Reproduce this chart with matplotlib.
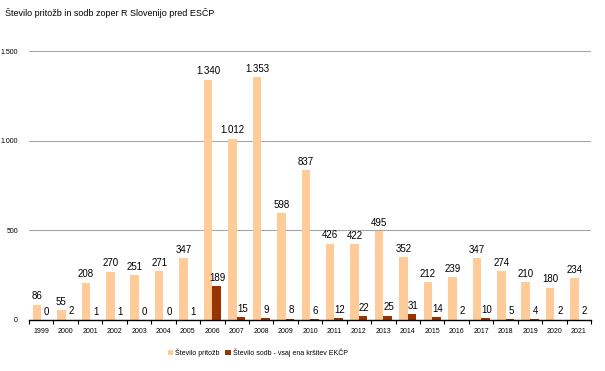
import matplotlib.pyplot as plt
import numpy as np

plt.rcParams['font.family'] = ['Liberation Sans', 'DejaVu Sans']

years = [str(y) for y in range(1999, 2022)]
pritozbe = [86, 55, 208, 270, 251, 271, 347, 1340, 1012, 1353, 598, 837,
            426, 422, 495, 352, 212, 239, 347, 274, 210, 180, 234]
sodbe = [0, 2, 1, 1, 0, 0, 1, 189, 15, 9, 8, 6,
         12, 22, 25, 31, 14, 2, 10, 5, 4, 2, 2]


def fmt(v):
    return f"{v:,}".replace(",", ".")


fig = plt.figure(figsize=(6.05, 3.71), dpi=100)
ax = fig.add_axes([0.048, 0.1375, 0.929, 0.725])

x = np.arange(len(years))
w = 0.35
b1 = ax.bar(x - w / 2, pritozbe, w, color='#FFCC99', label='Število pritožb', zorder=2)
b2 = ax.bar(x + w / 2, sodbe, w, color='#993300',
            label='Število sodb - vsaj ena kršitev EKČP', zorder=2)

for xi, v in zip(x, pritozbe):
    ax.text(xi - w / 2, v + 18, fmt(v), ha='center', va='bottom', fontsize=7)
for xi, v in zip(x, sodbe):
    ax.text(xi + w / 2 + 0.05, v + 18, fmt(v), ha='center', va='bottom', fontsize=7)

ax.set_xlim(-0.5, len(years) - 0.5)
ax.set_ylim(0, 1500)
ax.set_yticks([0, 500, 1000, 1500])
ax.set_yticklabels([fmt(t) for t in [0, 500, 1000, 1500]], fontsize=5)
ax.yaxis.grid(True, color='#A6A6A6', linewidth=0.8, zorder=0)
ax.tick_params(axis='y', length=0, pad=8)

ax.set_xticks(x)
ax.set_xticklabels(years, fontsize=5)
ax.set_xticks(np.arange(-0.5, len(years)), minor=True)
ax.tick_params(axis='x', which='major', length=0, pad=6)
ax.tick_params(axis='x', which='minor', length=3, width=0.8, direction='out')

for s in ['top', 'right', 'left']:
    ax.spines[s].set_visible(False)
ax.spines['bottom'].set_linewidth(1)

fig.text(0.008, 0.965, 'Število pritožb in sodb zoper R Slovenijo pred ESČP',
         fontsize=6.5, ha='left', va='center')

fig.legend(loc='center', bbox_to_anchor=(0.426, 0.05), ncol=2, frameon=False,
           fontsize=5, handlelength=0.8, handleheight=0.8, columnspacing=0.8,
           handletextpad=0.3)

fig.savefig('out.png', dpi=100)
